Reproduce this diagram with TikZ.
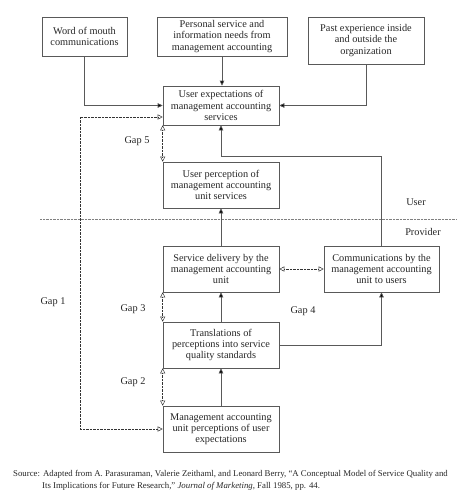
\documentclass[tikz,border=0pt]{standalone}
\usepackage{fontspec}
\setmainfont{Liberation Serif}
\usetikzlibrary{arrows.meta,calc}
\definecolor{ln}{gray}{0.35}
\tikzset{
  box/.style={draw=ln, line width=0.6pt, align=center, inner sep=1pt,
    font=\fontsize{10.3}{11.3}\selectfont, text=black!85},
  arr/.style={draw=ln, line width=0.6pt, -{Triangle[length=5pt,width=4.5pt,fill=black]}},
  gap/.style={draw=black!80, line width=0.9pt, dash pattern=on 0.8pt off 0.6pt,
    {Triangle[open,length=5pt,width=5pt,line width=0.5pt]}-{Triangle[open,length=5pt,width=5pt,line width=0.5pt]}},
  lbl/.style={font=\fontsize{10.3}{11.3}\selectfont, text=black!85},
  captxt/.style={font=\fontsize{8.8}{10}\selectfont, text=black!85, anchor=west, inner sep=0pt}
}
\begin{document}
\begin{tikzpicture}[x=1pt,y=-1pt]
\useasboundingbox (0,0) rectangle (474,493);
% boxes
\node[box, minimum width=85pt, minimum height=39pt] (wom) at (84.5,36.5) {Word of mouth\\communications};
\node[box, minimum width=130pt, minimum height=39pt] (pers) at (222,36.5) {Personal service and\\information needs from\\management accounting};
\node[box, minimum width=116pt, minimum height=47pt] (past) at (366,40.5) {Past experience inside\\and outside the\\organization};
\node[box, minimum width=116pt, minimum height=39pt] (exp) at (221,105.5) {User expectations of\\management accounting\\services};
\node[box, minimum width=116pt, minimum height=46pt] (perc) at (221,185) {User perception of\\management accounting\\unit services};
\node[box, minimum width=116pt, minimum height=46pt] (serv) at (221,269) {Service delivery by the\\management accounting\\unit};
\node[box, minimum width=115pt, minimum height=46pt] (comm) at (381.5,269) {Communications by the\\management accounting\\unit to users};
\node[box, minimum width=116pt, minimum height=46pt] (trans) at (221,345) {Translations of\\perceptions into service\\quality standards};
\node[box, minimum width=116pt, minimum height=46pt] (mgmt) at (221,429) {Management accounting\\unit perceptions of user\\expectations};
% divider
\draw[black!50, line width=0.4pt, dash pattern=on 0.6pt off 0.8pt] (40,219) -- (456,219);
\node[lbl] (user) at (416,202) {User};
\node[lbl] (prov) at (423,232) {Provider};
% solid connectors
\draw[arr] (pers.south) -- (pers.south |- exp.north);
\draw[arr] (wom.south) |- (exp.west);
\draw[arr] (past.south) |- (exp.east);
\draw[arr] (serv.north) -- (perc.south);
\draw[arr] (trans.north) -- (serv.south);
\draw[arr] (mgmt.north) -- (trans.south);
\draw[arr] (trans.east) -| (comm.south);
\coordinate (c1) at (221,156);
\draw[arr] (comm.north) |- (c1) -- (exp.south);
% gaps
\coordinate (g1) at (80,117);
\draw[gap] (mgmt.west) -| (g1) -- (g1 -| exp.west);
\draw[gap] (exp.south west) -- (perc.north west);
\draw[gap] (serv.south west) -- (trans.north west);
\draw[gap] (trans.south west) -- (mgmt.north west);
\draw[gap] (serv.east) -- (comm.west);
\node[lbl] (gap1) at (53,302) {Gap 1};
\node[lbl] (gap2) at (133,382) {Gap 2};
\node[lbl] (gap3) at (133,309) {Gap 3};
\node[lbl] (gap4) at (303,311) {Gap 4};
\node[lbl] (gap5) at (137,141) {Gap 5};
% caption
\node[captxt] (cap1) at (13,474) {Source: Adapted from A. Parasuraman, Valerie Zeithaml, and Leonard Berry, “A Conceptual Model of Service Quality and};
\node[captxt] (cap2) at (42,486) {Its Implications for Future Research,” \textit{Journal of Marketing}, Fall 1985, pp. 44.};
\end{tikzpicture}
\end{document}
